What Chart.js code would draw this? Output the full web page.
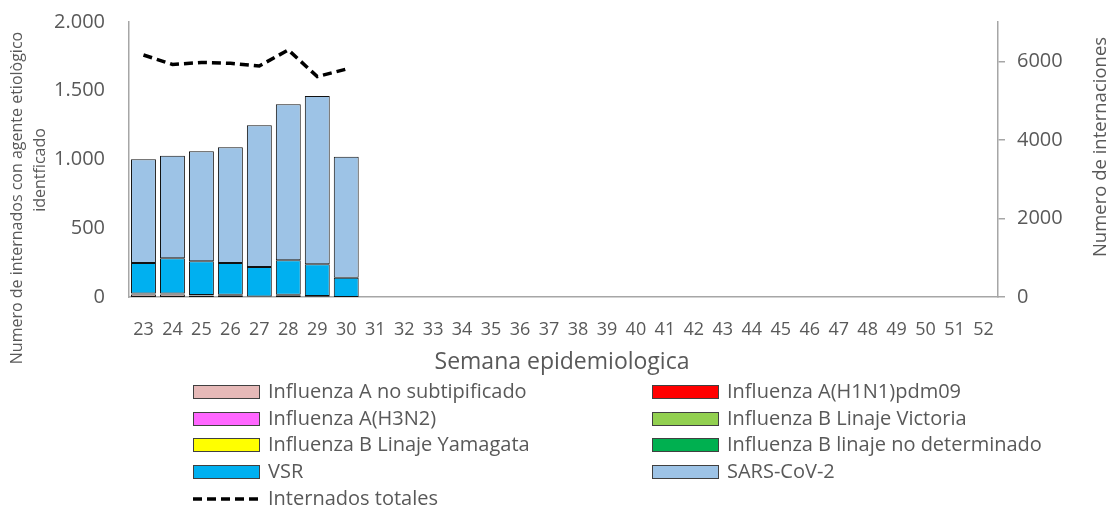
<!DOCTYPE html>
<html>
<head>
<meta charset="utf-8">
<script src="https://cdn.jsdelivr.net/npm/chart.js@4"></script>
<style>
  html, body { margin: 0; padding: 0; background: #fff; }
  #wrap { width: 1111px; height: 507px; }
</style>
</head>
<body>
<div id="wrap"><canvas id="myChart" width="1111" height="507"></canvas></div>
<script>
// Data
const weeks = ['23', '24', '25', '26', '27', '28', '29', '30', '31', '32', '33', '34', '35', '36', '37',
    '38', '39', '40', '41', '42', '43', '44', '45', '46', '47', '48', '49', '50', '51', '52'];

const fluANoSubtip = [18, 18, 10, 10, 4, 12, 5, 0];
const fluH1N1 = [0, 0, 2, 0, 0, 0, 0, 0];
const fluH3N2 = [8, 8, 0, 6, 0, 5, 3, 0];
const fluBVictoria = [0, 0, 0, 0, 0, 0, 0, 0];
const fluBYamagata = [0, 0, 0, 0, 0, 0, 0, 0];
const fluBNoDet = [0, 0, 3, 0, 0, 0, 0, 0];
const vsr = [221, 255, 245, 231, 214, 250, 230, 140];
const sarsCov2 = [754, 747, 800, 842, 1031, 1134, 1224, 880];
const internadosTotales = [6160, 5920, 5970, 5950, 5880, 6290, 5610, 5800];

const leftTicks = [0, 500, 1000, 1500, 2000];
const rightTicks = [0, 2000, 4000, 6000];

const textColor = '#595959';
const axisColor = '#a6a6a6';
const fontName = "'Open Sans', sans-serif";

function barSet(label, data, color) {
    return {
        type: 'bar',
        label: label,
        // zero segments are left out so they draw no stray border
        data: data.map(v => (v === 0 ? null : v)),
        backgroundColor: color,
        borderColor: '#111',
        borderWidth: 1,
        borderSkipped: false,
        yAxisID: 'y',
        order: 1,
        categoryPercentage: 1,
        barPercentage: 0.86
    };
}

// Legend in two columns + axis titles
const extrasPlugin = {
    id: 'extras',
    afterDraw(chart) {
        const c = chart.ctx;
        c.save();
        c.fillStyle = textColor;
        c.font = '20px ' + fontName;
        c.textBaseline = 'middle';
        c.textAlign = 'left';

        const cols = [193, 652];
        const rowY = [392, 419, 445, 472, 499];
        chart.data.datasets.forEach((ds, i) => {
            const x = cols[i % 2];
            const y = rowY[Math.floor(i / 2)];
            if (ds.type === 'line') {
                c.strokeStyle = '#000';
                c.lineWidth = 3.5;
                c.setLineDash([9, 5]);
                c.beginPath();
                c.moveTo(x, y);
                c.lineTo(x + 67, y);
                c.stroke();
                c.setLineDash([]);
            } else {
                c.fillStyle = ds.backgroundColor;
                c.fillRect(x, y - 7, 67, 14);
                c.strokeStyle = '#404040';
                c.lineWidth = 1;
                c.strokeRect(x + 0.5, y - 6.5, 66, 13);
            }
            c.fillStyle = textColor;
            c.fillText(ds.label, x + 75, y);
        });

        // x title
        c.textAlign = 'center';
        c.font = '23px ' + fontName;
        c.fillText('Semana epidemiologica', 562, 362);

        // left title
        c.font = '16px ' + fontName;
        c.save();
        c.translate(17, 198);
        c.rotate(-Math.PI / 2);
        c.fillText('Numero de internados con agente etiològico', 0, 0);
        c.restore();
        c.save();
        c.translate(40, 170);
        c.rotate(-Math.PI / 2);
        c.fillText('identficado', 0, 0);
        c.restore();

        // right title
        c.font = '18.5px ' + fontName;
        c.save();
        c.translate(1101, 147);
        c.rotate(-Math.PI / 2);
        c.fillText('Numero de internaciones', 0, 0);
        c.restore();

        c.restore();
    }
};

function fixWidth(w) {
    return s => {
        s.width = w;
        s.paddingTop = 0;
        s.paddingBottom = 0;
    };
}

const ctx = document.getElementById('myChart').getContext('2d');

const myChart = new Chart(ctx, {
    data: {
        labels: weeks,
        datasets: [
            barSet('Influenza A no subtipificado', fluANoSubtip, '#e6b9b8'),
            barSet('Influenza A(H1N1)pdm09', fluH1N1, '#ff0000'),
            barSet('Influenza A(H3N2)', fluH3N2, '#ff66ff'),
            barSet('Influenza B Linaje Victoria', fluBVictoria, '#92d050'),
            barSet('Influenza B Linaje Yamagata', fluBYamagata, '#ffff00'),
            barSet('Influenza B linaje no determinado', fluBNoDet, '#00b050'),
            barSet('VSR', vsr, '#00b0f0'),
            barSet('SARS-CoV-2', sarsCov2, '#9dc3e6'),
            {
                type: 'line',
                label: 'Internados totales',
                data: internadosTotales,
                borderColor: '#000',
                backgroundColor: '#000',
                borderWidth: 3.5,
                borderDash: [9, 5],
                pointRadius: 0,
                tension: 0,
                fill: false,
                yAxisID: 'y1',
                order: 0
            }
        ]
    },
    options: {
        responsive: false,
        animation: false,
        layout: { padding: { left: 0, right: 0, top: 22, bottom: 165 } },
        plugins: {
            legend: { display: false },
            tooltip: { enabled: false }
        },
        scales: {
            x: {
                stacked: true,
                grid: { display: false },
                border: { display: true, color: axisColor, width: 1.5 },
                ticks: {
                    color: textColor,
                    font: { family: fontName, size: 18 },
                    padding: 14,
                    maxRotation: 0,
                    autoSkip: false
                },
                afterFit: s => {
                    s.height = 45;
                    s.paddingLeft = 0;
                    s.paddingRight = 0;
                }
            },
            y: {
                position: 'left',
                stacked: true,
                min: 0,
                max: 2000,
                afterBuildTicks: s => { s.ticks = leftTicks.map(v => ({ value: v })); },
                grid: { display: false },
                border: { display: true, color: axisColor, width: 1.5 },
                ticks: {
                    color: textColor,
                    font: { family: fontName, size: 20 },
                    padding: 16,
                    callback: v => v.toLocaleString('de-DE')
                },
                afterFit: fixWidth(129)
            },
            y1: {
                position: 'right',
                min: 0,
                max: 7000,
                afterBuildTicks: s => { s.ticks = rightTicks.map(v => ({ value: v })); },
                grid: {
                    display: true,
                    drawOnChartArea: false,
                    drawTicks: true,
                    tickLength: 7,
                    color: axisColor,
                    lineWidth: 1.5
                },
                border: { display: true, color: axisColor, width: 1.5 },
                ticks: {
                    color: textColor,
                    font: { family: fontName, size: 20 },
                    padding: 12,
                    callback: v => String(v)
                },
                afterFit: fixWidth(113)
            }
        }
    },
    plugins: [extrasPlugin]
});
</script>
</body>
</html>
